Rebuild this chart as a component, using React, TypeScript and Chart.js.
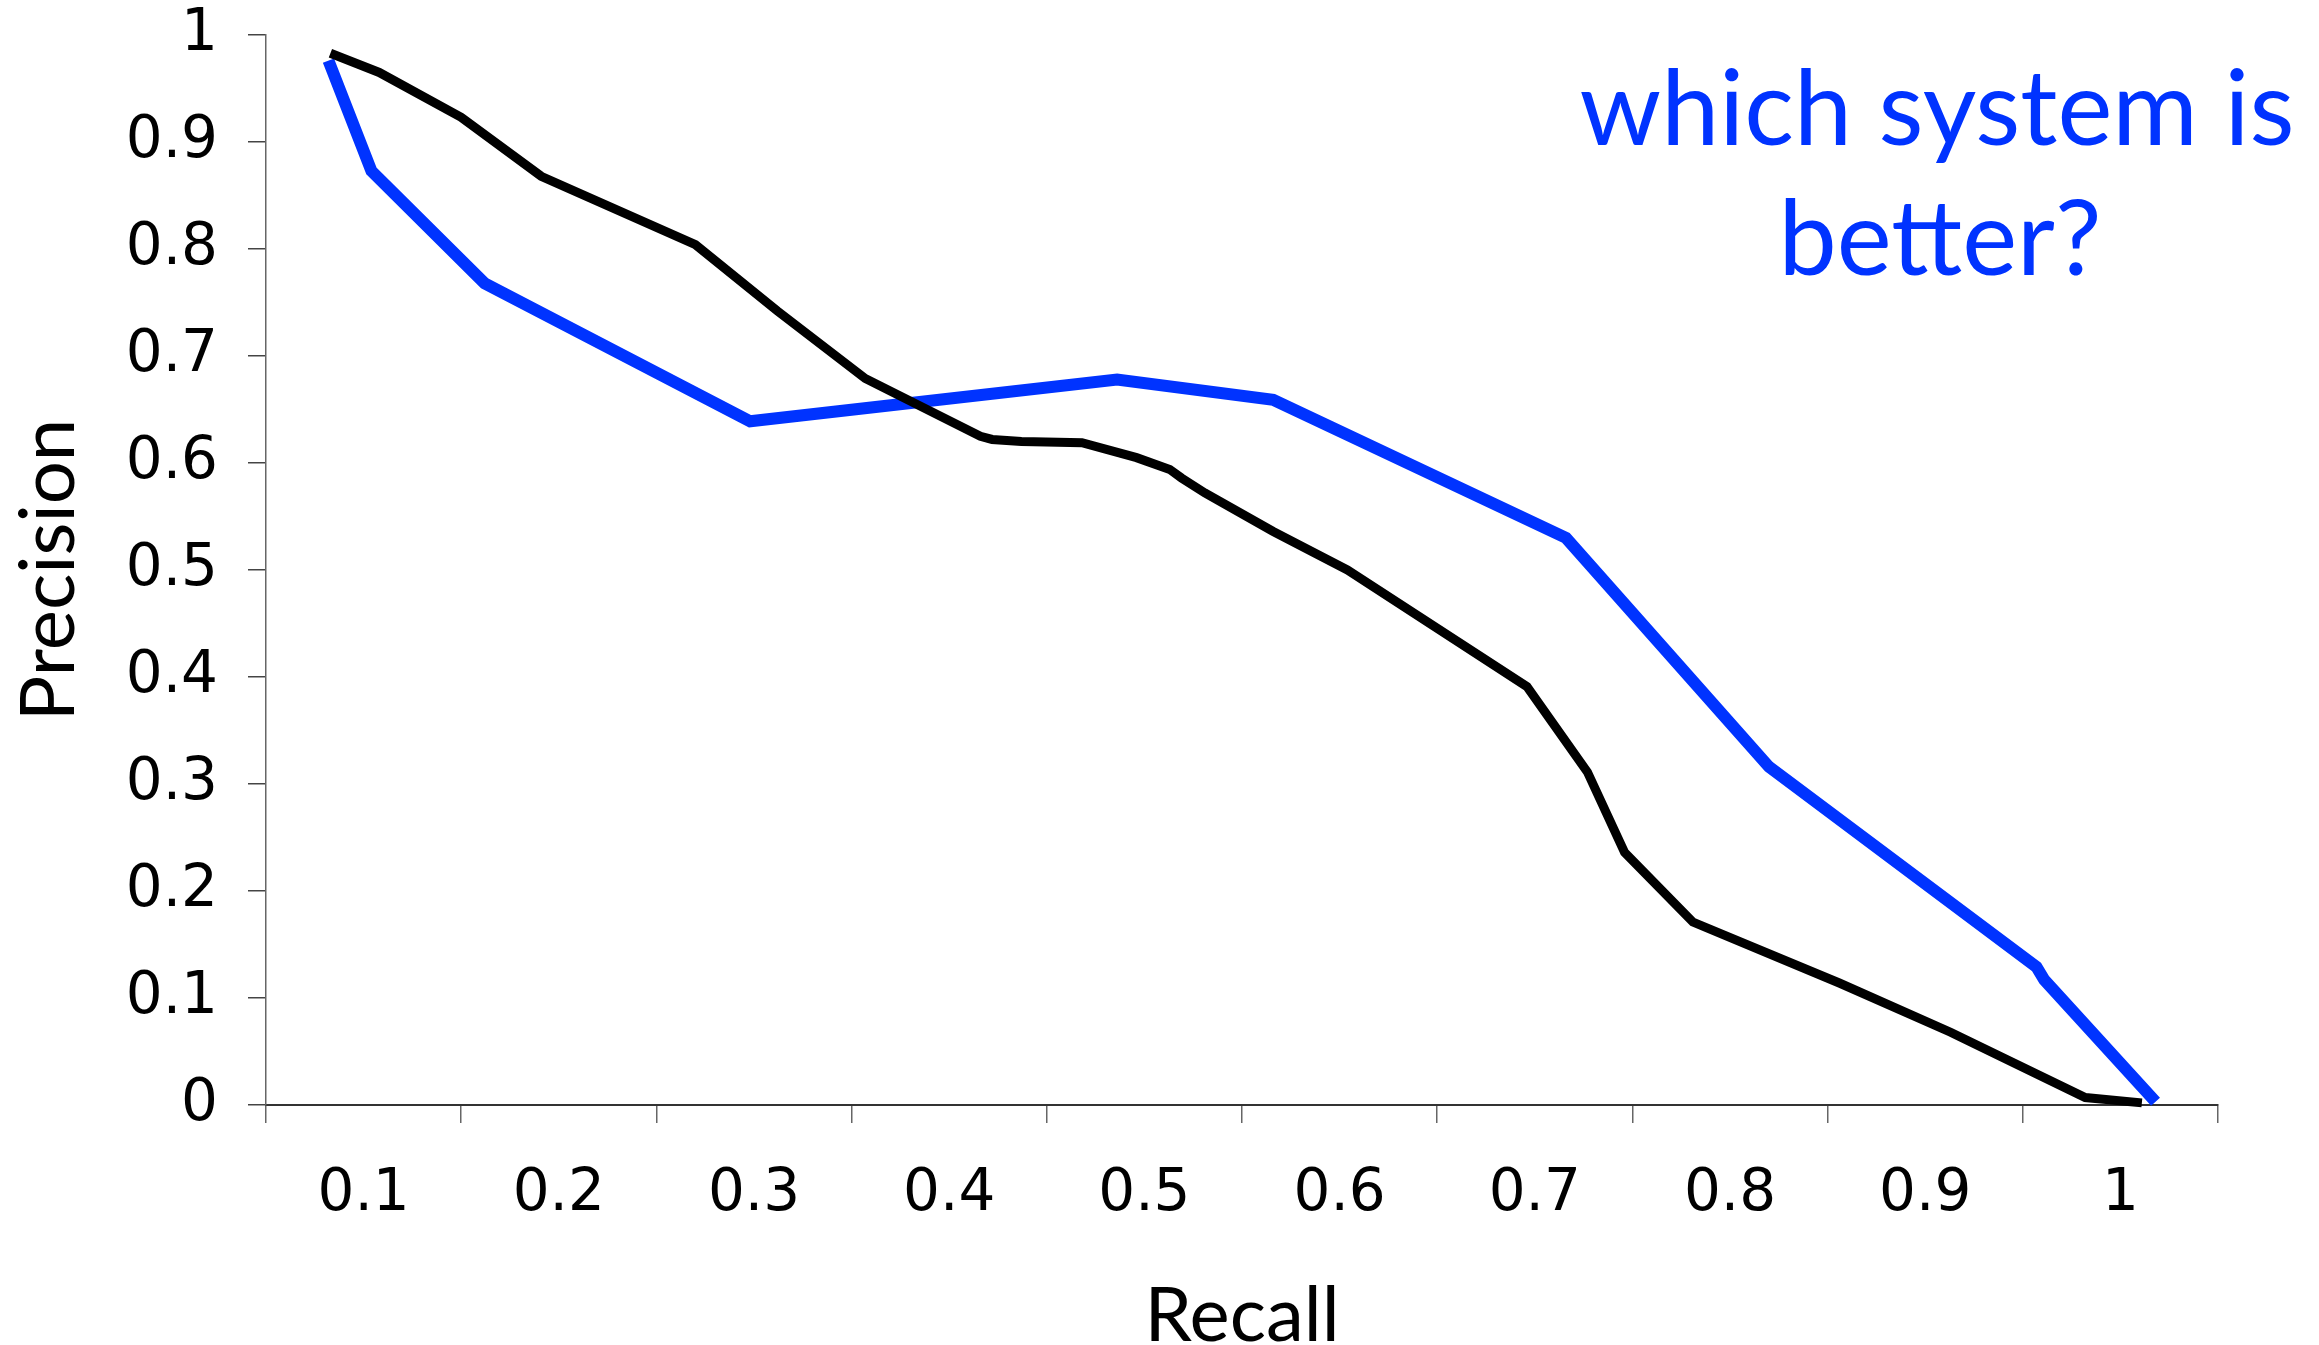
import React, { useEffect, useRef } from "react";
import { Chart, registerables } from "chart.js";

Chart.register(...registerables);

// Category labels on the x axis (centred between tick marks)
const xCategoryLabels = ["0.1", "0.2", "0.3", "0.4", "0.5", "0.6", "0.7", "0.8", "0.9", "1"];
// Tick-mark boundaries between categories
const xTickBoundaries = [0.05, 0.15, 0.25, 0.35, 0.45, 0.55, 0.65, 0.75, 0.85, 0.95, 1.05];
const yTickValues = [0, 0.1, 0.2, 0.3, 0.4, 0.5, 0.6, 0.7, 0.8, 0.9, 1];
const yTickLabels = ["0", "0.1", "0.2", "0.3", "0.4", "0.5", "0.6", "0.7", "0.8", "0.9", "1"];

// System A (black)
const blackRecall = [0.083, 0.108, 0.15, 0.191, 0.27, 0.312, 0.357, 0.416, 0.422, 0.437, 0.468, 0.496, 0.513, 0.519, 0.531, 0.566, 0.604, 0.696, 0.727, 0.746, 0.781, 0.856, 0.913, 0.982, 1.011];
const blackPrecision = [0.983, 0.965, 0.923, 0.868, 0.804, 0.742, 0.679, 0.625, 0.622, 0.62, 0.619, 0.605, 0.594, 0.586, 0.572, 0.536, 0.5, 0.391, 0.311, 0.236, 0.171, 0.114, 0.068, 0.007, 0.002];

// System B (blue)
const blueRecall = [0.082, 0.104, 0.162, 0.298, 0.486, 0.566, 0.716, 0.82, 0.957, 0.961, 1.018];
const bluePrecision = [0.976, 0.873, 0.768, 0.639, 0.678, 0.659, 0.53, 0.316, 0.129, 0.117, 0.003];

const annotationLines = ["which system is", "better?"];
const BLUE = "#0033ff";
const TICK_FONT = "'DejaVu Sans', Verdana, sans-serif";

const annotationPlugin = {
  id: "questionText",
  afterDraw(chart: any) {
    const ctx = chart.ctx;
    ctx.save();
    ctx.fillStyle = BLUE;
    ctx.font = "104px Lato";
    ctx.textAlign = "center";
    ctx.textBaseline = "alphabetic";
    ctx.fillText(annotationLines[0], 1937, 145);
    ctx.fillText(annotationLines[1], 1940, 275);
    ctx.restore();
  },
};

export default function App() {
  const canvasRef = useRef<HTMLCanvasElement | null>(null);

  useEffect(() => {
    const canvas = canvasRef.current;
    if (!canvas) return;
    const chart = new Chart(canvas, {
      type: "line",
      data: {
        datasets: [
          {
            label: "black",
            data: blackRecall.map((x, i) => ({ x, y: blackPrecision[i] })),
            borderColor: "#000000",
            borderWidth: 9,
            pointRadius: 0,
            fill: false,
            tension: 0,
            clip: false as any,
          },
          {
            label: "blue",
            data: blueRecall.map((x, i) => ({ x, y: bluePrecision[i] })),
            borderColor: BLUE,
            borderWidth: 12,
            pointRadius: 0,
            fill: false,
            tension: 0,
            clip: false as any,
          },
        ],
      },
      options: {
        responsive: false,
        animation: false,
        events: [],
        layout: { autoPadding: false, padding: { top: 35, right: 101, left: 0, bottom: 0 } },
        plugins: {
          legend: { display: false },
          tooltip: { enabled: false },
          title: { display: false },
        },
        scales: {
          x: {
            type: "linear",
            min: 0.05,
            max: 1.05,
            afterBuildTicks: (scale: any) => {
              scale.ticks = xTickBoundaries.map((v) => ({ value: v }));
            },
            afterFit: (scale: any) => {
              scale.height = 240;
              scale.paddingLeft = 0;
              scale.paddingRight = 0;
            },
            grid: {
              drawOnChartArea: false,
              drawTicks: true,
              tickLength: 18,
              color: "#666666",
              lineWidth: 1.5,
            },
            border: { display: true, color: "#333333", width: 2 },
            ticks: {
              autoSkip: false,
              maxRotation: 0,
              minRotation: 0,
              padding: 37,
              labelOffset: 97.6,
              color: "#000000",
              font: { family: TICK_FONT, size: 58 },
              callback: (_v: any, i: number) => xCategoryLabels[i] ?? "",
            },
            title: {
              display: true,
              text: "Recall",
              color: "#000000",
              font: { family: "Lato", size: 76, lineHeight: 0.76 },
              padding: { top: 0, bottom: 0 },
            },
          },
          y: {
            type: "linear",
            min: 0,
            max: 1,
            afterBuildTicks: (scale: any) => {
              scale.ticks = yTickValues.map((v) => ({ value: v }));
            },
            afterFit: (scale: any) => {
              scale.width = 266;
              scale.paddingTop = 0;
              scale.paddingBottom = 0;
            },
            grid: {
              drawOnChartArea: false,
              drawTicks: true,
              tickLength: 18,
              color: "#444444",
              lineWidth: 1.5,
            },
            border: { display: true, color: "#666666", width: 1.5 },
            ticks: {
              autoSkip: false,
              padding: 30,
              color: "#000000",
              font: { family: TICK_FONT, size: 58 },
              callback: (_v: any, i: number) => yTickLabels[i] ?? "",
            },
            title: {
              display: true,
              text: "Precision",
              color: "#000000",
              font: { family: "Lato", size: 76, lineHeight: 1 },
              padding: { top: 11, bottom: 0 },
            },
          },
        },
      },
      plugins: [annotationPlugin],
    });
    return () => chart.destroy();
  }, []);

  return (
    <div style={{ position: "fixed", left: 0, top: 0, width: 2319, height: 1345, background: "#ffffff" }}>
      <canvas ref={canvasRef} width={2319} height={1345} style={{ display: "block", width: 2319, height: 1345 }} />
    </div>
  );
}
